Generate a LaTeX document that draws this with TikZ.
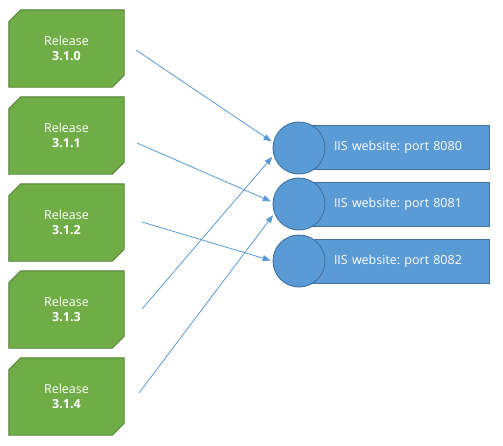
\documentclass[tikz,border=0pt]{standalone}
\usepackage{fontspec}
\setmainfont{Open Sans}
\usetikzlibrary{arrows.meta,backgrounds}
\definecolor{grn}{HTML}{70AD47}
\definecolor{grnb}{HTML}{507E32}
\definecolor{blu}{HTML}{5B9BD5}
\definecolor{blub}{HTML}{41719C}
\frenchspacing
\begin{document}
\begin{tikzpicture}[x=1pt,y=-1pt,
  rel/.style={rectangle, minimum width=115pt, minimum height=77pt,
    text=white, align=center, font=\fontsize{12.5}{15}\selectfont, inner sep=0pt},
  relshape/.style={fill=grn, draw=grnb, line width=0.9pt},
  site/.style={rectangle, fill=blu, draw=blub, line width=0.9pt,
    minimum width=179pt, minimum height=44pt, inner xsep=24pt, text width=131pt,
    align=left, text=white, font=\fontsize{12.5}{15}\selectfont},
  port/.style={circle, fill=blu, draw=blub, line width=0.9pt, minimum size=52pt, inner sep=0pt},
  link/.style={draw=blu, line width=0.8pt, -{Triangle[length=8pt,width=6pt]}, shorten >=2pt}]
\useasboundingbox (0,0) rectangle (503,445);
\node[rel] (r0) at (66.5,48.5) {Release\\\textbf{3.1.0}};
\node[rel] (r1) at (66.5,135.5) {Release\\\textbf{3.1.1}};
\node[rel] (r2) at (66.5,222.5) {Release\\\textbf{3.1.2}};
\node[rel] (r3) at (66.5,309.5) {Release\\\textbf{3.1.3}};
\node[rel] (r4) at (66.5,396.5) {Release\\\textbf{3.1.4}};
\begin{scope}[on background layer]
\fill[white] (0,0) rectangle (503,445);
\foreach \r in {r0,r1,r2,r3,r4}{
  \path[relshape] ([xshift=12pt]\r.north west) -- (\r.north east) -- ([yshift=12pt]\r.south east)
    -- ([xshift=-12pt]\r.south east) -- (\r.south west) -- ([yshift=-12pt]\r.north west) -- cycle;
}
\end{scope}
\node[site] (w0) at (399.5,147) {IIS website: port 8080};
\node[site] (w1) at (399.5,204) {IIS website: port 8081};
\node[site] (w2) at (399.5,261) {IIS website: port 8082};
\node[port] (c0) at (299,148) {};
\node[port] (c1) at (299,204) {};
\node[port] (c2) at (299,261) {};
\coordinate (s0) at (136,50);
\coordinate (s1) at (137,143);
\coordinate (s2) at (142,222);
\coordinate (s3) at (142,309);
\coordinate (s4) at (139,393);
\draw[link] (s0) -- (c0.168);
\draw[link] (s1) -- (c1.176);
\draw[link] (s2) -- (c2.180);
\draw[link] (s3) -- (c0.196);
\draw[link] (s4) -- (c1.201);
\end{tikzpicture}
\end{document}
